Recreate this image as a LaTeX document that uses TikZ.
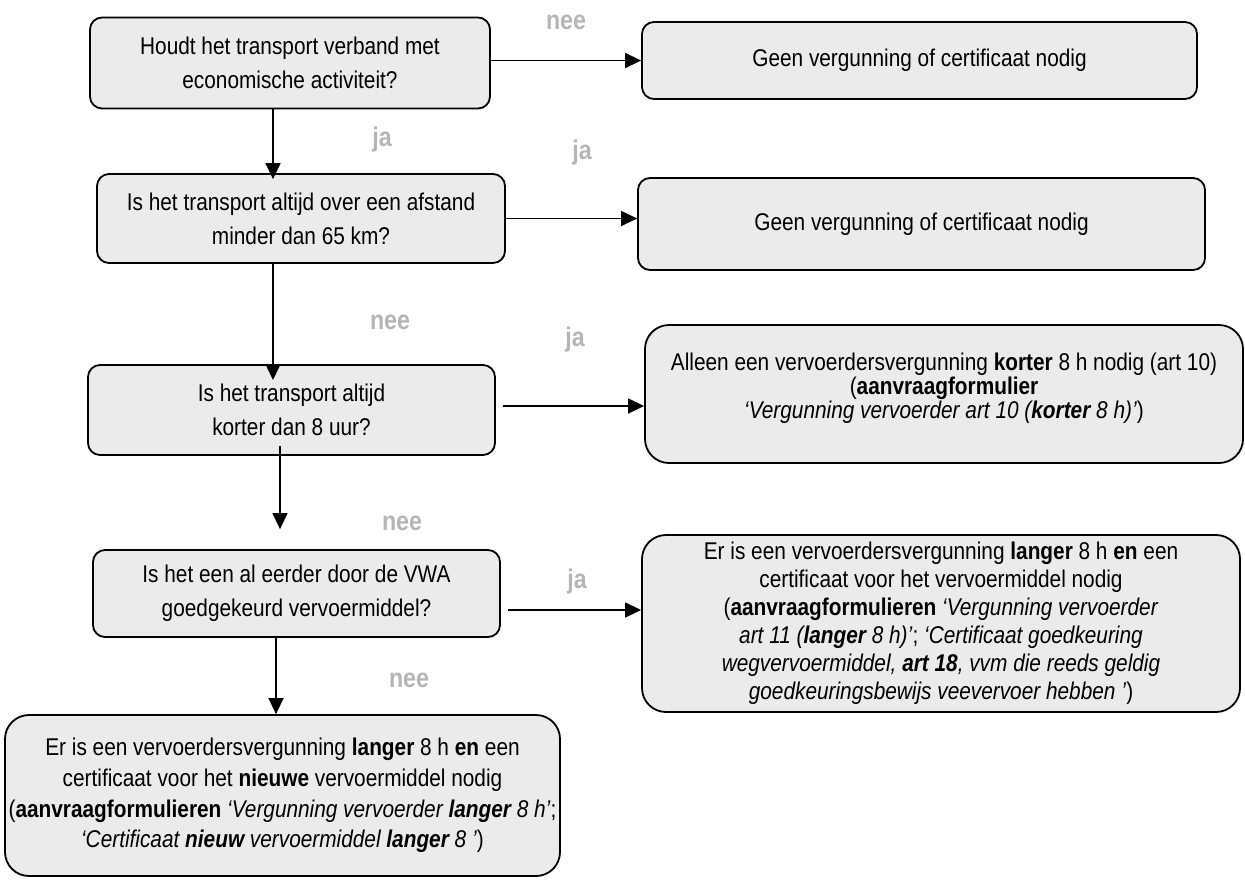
\documentclass[tikz,border=0pt]{standalone}
\usepackage{fontspec}
\setmainfont{Liberation Sans}[FakeStretch=0.86]
\usetikzlibrary{arrows.meta,calc}
\begin{document}
\begin{tikzpicture}[x=0.5pt,y=-0.5pt,
  box/.style={draw=black, line width=0.9pt, fill=gray!16, rounded corners=6pt,
    align=center, inner sep=0pt, font=\fontsize{12.1}{17}\selectfont},
  bigbox/.style={box, rounded corners=12pt},
  lbl/.style={text=gray!58, font=\bfseries\fontsize{13.5}{14}\selectfont},
  arr/.style={line width=0.7pt, -{Triangle[length=8pt,width=7.5pt]}}]
\useasboundingbox (0,0) rectangle (1245,879);

% boxes
\node[box, minimum width=200pt, minimum height=45.5pt] (A) at (290,63)
  {Houdt het transport verband met\\economische activiteit?};
\node[box, minimum width=277.5pt, minimum height=38.5pt] (A2) at (919.5,60.5)
  {Geen vergunning of certificaat nodig};
\node[box, minimum width=204pt, minimum height=44.5pt] (B) at (301,218.5)
  {Is het transport altijd over een afstand\\minder dan 65 km?};
\node[box, minimum width=283.5pt, minimum height=46pt] (B2) at (921.5,224)
  {Geen vergunning of certificaat nodig};
\node[box, minimum width=203.5pt, minimum height=45pt] (C) at (291.5,410)
  {Is het transport altijd\\korter dan 8 uur?};
\node[bigbox, minimum width=299pt, minimum height=69pt, font=\fontsize{12.1}{12}\selectfont] (C2) at (944,394)
  {Alleen een vervoerdersvergunning \textbf{korter} 8 h nodig (art 10)\\
   (\textbf{aanvraagformulier}\\
   \textit{‘Vergunning vervoerder art 10 (\textbf{korter} 8 h)’})\\[-4pt]\mbox{}};
\node[box, minimum width=203.5pt, minimum height=43.5pt] (D) at (296.5,593.5)
  {Is het een al eerder door de VWA\\goedgekeurd vervoermiddel?};
\node[bigbox, minimum width=299pt, minimum height=88.5pt, font=\fontsize{12.1}{14}\selectfont] (D2) at (941,623.5)
  {Er is een vervoerdersvergunning \textbf{langer} 8 h \textbf{en} een\\
   certificaat voor het vervoermiddel nodig\\
   (\textbf{aanvraagformulieren} \textit{‘Vergunning vervoerder}\\
   \textit{art 11 (\textbf{langer} 8 h)’}; \textit{‘Certificaat goedkeuring}\\
   \textit{wegvervoermiddel, \textbf{art 18}, vvm die reeds geldig}\\
   \textit{goedkeuringsbewijs veevervoer hebben ’})};
\node[bigbox, minimum width=277.5pt, minimum height=80.5pt, font=\fontsize{12.1}{15.3}\selectfont] (E) at (282.5,795.5)
  {Er is een vervoerdersvergunning \textbf{langer} 8 h \textbf{en} een\\
   certificaat voor het \textbf{nieuwe} vervoermiddel nodig\\
   (\textbf{aanvraagformulieren} \textit{‘Vergunning vervoerder \textbf{langer} 8 h’};\\
   \textit{‘Certificaat \textbf{nieuw} vervoermiddel \textbf{langer} 8 ’})};

% labels
\node[lbl] (l1) at (566,22) {nee};
\node[lbl] (l2) at (382,140) {ja};
\node[lbl] (l3) at (582,153) {ja};
\node[lbl] (l4) at (390,322) {nee};
\node[lbl] (l5) at (575,340) {ja};
\node[lbl] (l6) at (402,523) {nee};
\node[lbl] (l7) at (577,582) {ja};
\node[lbl] (l8) at (409,680) {nee};

% helper coordinates
\coordinate (xa) at (273,0);
\coordinate (xc) at (280,0);
\coordinate (xd) at (276,0);
\coordinate (cin) at (273,380);
\coordinate (cs) at (503,406);
\coordinate (ds) at (508,610);

% connectors
\draw[arr] (A2.west -| A.east) -- (A2.west);
\draw[arr] (A.south -| xa) -- ([yshift=-3pt]B.north -| xa);
\draw[arr] (B.east) -- (B.east -| B2.west);
\draw[arr] (B.south -| xa) -- (cin);
\draw[arr] (cs) -- (cs -| C2.west);
\draw[arr, shorten <=-5pt, shorten >=10pt] (C.south -| xc) -- (D.north -| xc);
\draw[arr] (ds) -- (ds -| D2.west);
\draw[arr] (D.south -| xd) -- (E.north -| xd);
\end{tikzpicture}
\end{document}
